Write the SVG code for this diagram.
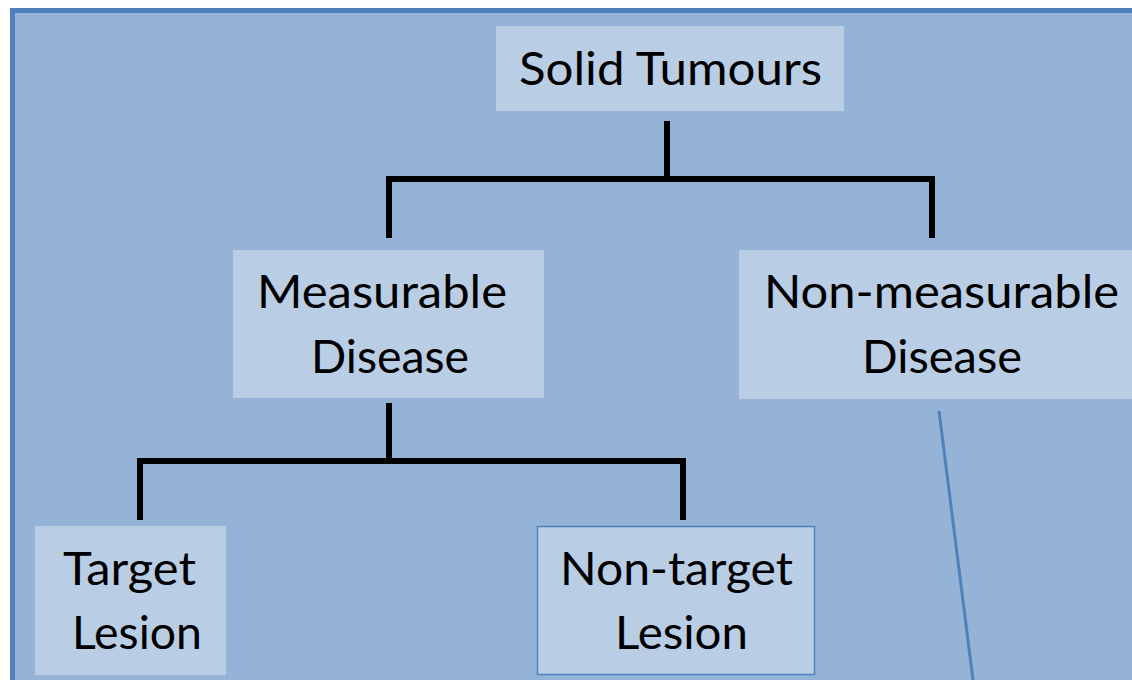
<svg xmlns="http://www.w3.org/2000/svg" width="1132" height="680" viewBox="0 0 1132 680">
<style>
.box{fill:#B9CDE5;}
.lbl{font-family:Lato,"Open Sans","Liberation Sans",sans-serif;font-size:46px;fill:#000;}
.conn{stroke:#000;stroke-width:6;fill:none;stroke-linecap:butt;}
</style>
<rect width="1132" height="680" fill="#ffffff"/>
<rect id="frame" x="12.5" y="10.5" width="1200" height="720" fill="#95B3D7" stroke="#4F81BD" stroke-width="5"/>
<g id="connectors">
<path class="conn" d="M667 121 V179 M386 179 H935 M389 179 V238 M932 179 V238"/>
<path class="conn" d="M389 403 V461 M137 461 H686 M140 461 V520 M683 461 V520"/>
<line x1="939" y1="411" x2="973" y2="680" stroke="#4F81BD" stroke-width="3"/>
</g>
<g id="solid-tumours">
<rect class="box" x="496" y="26" width="348" height="85"/>
<text class="lbl" x="519" y="85" textLength="303" lengthAdjust="spacingAndGlyphs">Solid Tumours</text>
</g>
<g id="measurable">
<rect class="box" x="233" y="250" width="311" height="148"/>
<text class="lbl" x="257" y="308" textLength="250" lengthAdjust="spacingAndGlyphs">Measurable</text>
<text class="lbl" x="311" y="373" textLength="158" lengthAdjust="spacingAndGlyphs">Disease</text>
</g>
<g id="non-measurable">
<rect class="box" x="739" y="250" width="420" height="149"/>
<text class="lbl" x="764" y="308" textLength="355" lengthAdjust="spacingAndGlyphs">Non-measurable</text>
<text class="lbl" x="862" y="373" textLength="160" lengthAdjust="spacingAndGlyphs">Disease</text>
</g>
<g id="target">
<rect class="box" x="35" y="526" width="191" height="149"/>
<text class="lbl" x="63" y="585" textLength="133" lengthAdjust="spacingAndGlyphs">Target</text>
<text class="lbl" x="72" y="649" textLength="130" lengthAdjust="spacingAndGlyphs">Lesion</text>
</g>
<g id="non-target">
<rect class="box" x="537.5" y="526.5" width="277" height="148" stroke="#4F81BD" stroke-width="1.5"/>
<text class="lbl" x="560" y="585" textLength="233" lengthAdjust="spacingAndGlyphs">Non-target</text>
<text class="lbl" x="615" y="649" textLength="133" lengthAdjust="spacingAndGlyphs">Lesion</text>
</g>
</svg>
